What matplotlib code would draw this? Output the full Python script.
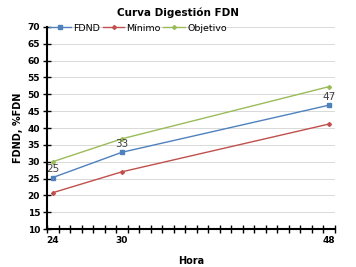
import numpy as np
import matplotlib
matplotlib.use("Agg")
import matplotlib.pyplot as plt

# datos
horas = [24, 30, 48]
fdnd = [25.3, 32.8, 46.8]
minimo = [20.8, 27.0, 41.2]
objetivo = [30.0, 36.8, 52.3]
etiquetas_fdnd = ["25", "33", "47"]

fig = plt.figure(figsize=(3.56, 2.67), dpi=100)
ax = fig.add_axes([0.132, 0.142, 0.809, 0.757])

ax.plot(horas, fdnd, color="#4f81bd", marker="s", markersize=3.5, lw=1, label="FDND", zorder=4)
ax.plot(horas, minimo, color="#c0504d", marker="D", markersize=2, lw=1, label="Mínimo", zorder=3)
ax.plot(horas, objetivo, color="#9bbb59", marker="D", markersize=2, lw=1, label="Objetivo", zorder=3)

for x, y, t in zip(horas, fdnd, etiquetas_fdnd):
    ax.annotate(t, (x, y), xytext=(0, 2.5), textcoords="offset points",
                ha="center", va="bottom", fontsize=7.5, color="#404040")

ax.set_xlim(23.5, 48.5)
ax.set_ylim(10, 70)
ax.set_yticks(np.arange(10, 71, 5))
ax.set_xticks(horas)
ax.set_xticks(np.arange(23.5, 48.6, 1), minor=True)
ax.tick_params(axis="x", which="major", length=0, labelsize=6.5, pad=5)
ax.tick_params(axis="x", which="minor", direction="inout", length=6, width=1)
ax.tick_params(axis="y", direction="inout", length=6, width=1, labelsize=6.5, pad=2)
for lab in ax.get_xticklabels() + ax.get_yticklabels():
    lab.set_fontweight("bold")

ax.grid(axis="y", color="#d9d9d9", lw=0.7)
ax.set_axisbelow(True)
for s in ["top", "right"]:
    ax.spines[s].set_visible(False)
for s in ["left", "bottom"]:
    ax.spines[s].set_linewidth(1.5)

ax.set_xlabel("Hora", fontsize=7, fontweight="bold", labelpad=8)
ax.set_ylabel("FDND, %FDN", fontsize=7, fontweight="bold", labelpad=3)
fig.text(0.5, 0.951, "Curva Digestión FDN", ha="center", va="center",
         fontsize=7.5, fontweight="bold")

ax.legend(loc="upper left", bbox_to_anchor=(-0.005, 1.035), ncol=3, frameon=False,
          fontsize=6.8, handlelength=2.3, handletextpad=0.2, columnspacing=0.3,
          borderaxespad=0)

fig.savefig("out.png", dpi=100)
